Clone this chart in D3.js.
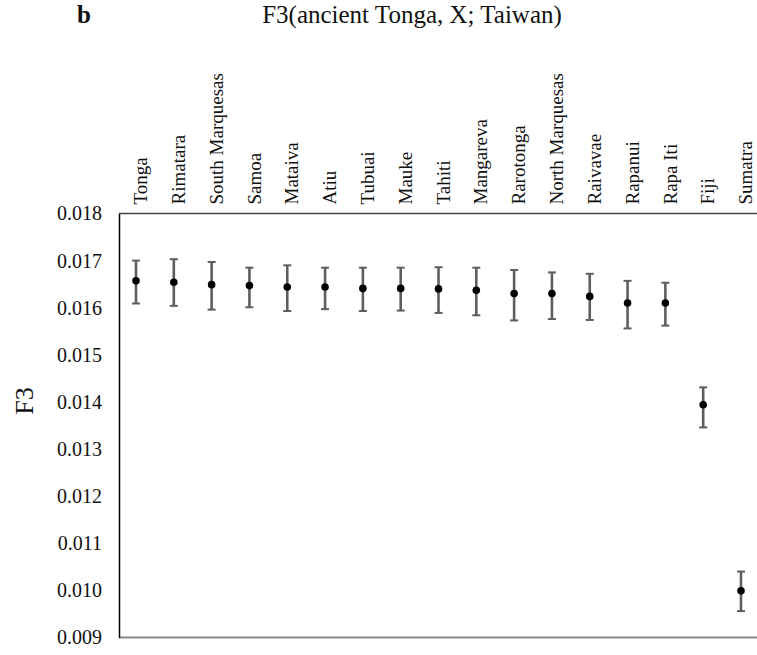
<!DOCTYPE html>
<html>
<head>
<meta charset="utf-8">
<script src="https://cdn.jsdelivr.net/npm/d3@7"></script>
<style>
  body { margin: 0; background: #fff; }
  svg text { font-family: "Liberation Serif", "Times New Roman", serif; }
</style>
</head>
<body>
<svg id="chart" width="757" height="655"></svg>
<script>
// populations on the x axis
const populations = ["Tonga", "Rimatara", "South Marquesas", "Samoa", "Mataiva", "Atiu", "Tubuai",
  "Mauke", "Tahiti", "Mangareva", "Rarotonga", "North Marquesas", "Raivavae", "Rapanui",
  "Rapa Iti", "Fiji", "Sumatra"];
// F3 estimates and error bar ends
const f3 = [0.01657, 0.01654, 0.01649, 0.01647, 0.01644, 0.01644, 0.01641,
  0.01641, 0.01640, 0.01637, 0.01630, 0.01630, 0.01624, 0.01610,
  0.01610, 0.01394, 0.00999];
const f3Low = [0.01609, 0.01604, 0.01596, 0.01601, 0.01593, 0.01597, 0.01593,
  0.01594, 0.01589, 0.01584, 0.01573, 0.01576, 0.01574, 0.01556,
  0.01562, 0.01346, 0.00956];
const f3High = [0.01700, 0.01703, 0.01697, 0.01685, 0.01690, 0.01685, 0.01685,
  0.01685, 0.01686, 0.01685, 0.01680, 0.01675, 0.01672, 0.01657,
  0.01653, 0.01431, 0.01040];
const yTicks = [0.009, 0.010, 0.011, 0.012, 0.013, 0.014, 0.015, 0.016, 0.017, 0.018];

const data = populations.map((p, i) => ({pop: p, v: f3[i], lo: f3Low[i], hi: f3High[i]}));

const svg = d3.select("#chart");
const plotLeft = 119, plotRight = 757, plotTop = 213.5, plotBottom = 637.5;

const x = d3.scalePoint().domain(populations).range([136, 741]);
const y = d3.scaleLinear().domain([0.009, 0.018]).range([plotBottom, plotTop]);

// frame lines
svg.append("line")
  .attr("x1", plotLeft).attr("x2", plotRight).attr("y1", plotTop).attr("y2", plotTop)
  .attr("stroke", "#444").attr("stroke-width", 1.5);
svg.append("line")
  .attr("x1", plotLeft).attr("x2", plotRight).attr("y1", plotBottom).attr("y2", plotBottom)
  .attr("stroke", "#888").attr("stroke-width", 2);

// y axis
const yAxis = svg.append("g")
  .attr("transform", `translate(${plotLeft},0)`)
  .call(d3.axisLeft(y).tickValues(yTicks).tickFormat(d3.format(".3f"))
    .tickSize(0).tickPadding(17));
yAxis.attr("font-family", null);
yAxis.select(".domain").attr("stroke", "#000").attr("stroke-width", 1.5);
yAxis.selectAll("text")
  .style("font-family", "'Liberation Serif', 'Times New Roman', serif")
  .attr("font-size", 20)
  .attr("fill", "#111");

// category labels along the top
const xAxis = svg.append("g")
  .attr("transform", `translate(0,${plotTop})`)
  .call(d3.axisTop(x).tickSize(0).tickFormat(d => d));
xAxis.attr("font-family", null);
xAxis.select(".domain").remove();
xAxis.selectAll("text")
  .style("font-family", "'Liberation Serif', 'Times New Roman', serif")
  .attr("font-size", 19)
  .attr("fill", "#111")
  .attr("text-anchor", "start")
  .attr("transform", "translate(4,-9) rotate(-90)")
  .attr("x", 0).attr("y", 0)
  .attr("dy", "0.35em");

// error bars
const bars = svg.append("g").selectAll("g")
  .data(data)
  .join("g");
bars.append("line")
  .attr("x1", d => x(d.pop)).attr("x2", d => x(d.pop))
  .attr("y1", d => y(d.lo)).attr("y2", d => y(d.hi))
  .attr("stroke", "#5e5e5e").attr("stroke-width", 2.6);
bars.append("line")
  .attr("x1", d => x(d.pop) - 4).attr("x2", d => x(d.pop) + 4)
  .attr("y1", d => y(d.lo)).attr("y2", d => y(d.lo))
  .attr("stroke", "#5e5e5e").attr("stroke-width", 2);
bars.append("line")
  .attr("x1", d => x(d.pop) - 4).attr("x2", d => x(d.pop) + 4)
  .attr("y1", d => y(d.hi)).attr("y2", d => y(d.hi))
  .attr("stroke", "#5e5e5e").attr("stroke-width", 2);
bars.append("circle")
  .attr("cx", d => x(d.pop)).attr("cy", d => y(d.v))
  .attr("r", 3.8)
  .attr("fill", "#000");

// y axis title
svg.append("text")
  .attr("transform", "translate(24,401) rotate(-90)")
  .attr("text-anchor", "middle")
  .attr("dy", "0.35em")
  .attr("font-size", 26)
  .attr("fill", "#111")
  .text("F3");

// chart title and panel letter
svg.append("text")
  .attr("x", 412).attr("y", 23)
  .attr("text-anchor", "middle")
  .attr("font-size", 25)
  .attr("fill", "#111")
  .text("F3(ancient Tonga, X; Taiwan)");
svg.append("text")
  .attr("x", 77).attr("y", 23)
  .attr("font-size", 25)
  .attr("font-weight", "bold")
  .attr("fill", "#111")
  .text("b");
</script>
</body>
</html>
